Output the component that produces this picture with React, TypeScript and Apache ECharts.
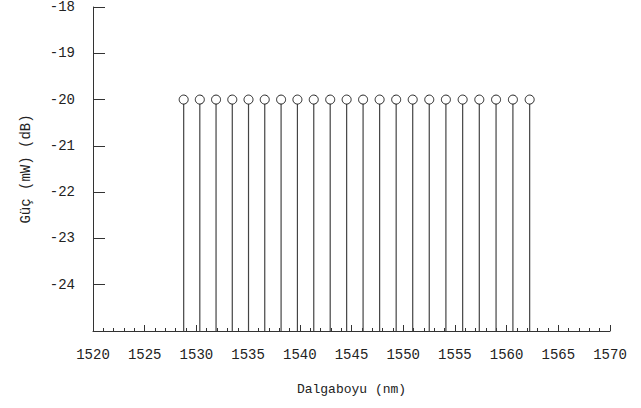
import React, { useEffect, useRef } from "react";
import * as echarts from "echarts";

const wavelengths = [
  1528.77, 1530.33, 1531.9, 1533.47, 1535.04, 1536.61, 1538.19, 1539.77,
  1541.35, 1542.94, 1544.53, 1546.12, 1547.72, 1549.32, 1550.92, 1552.52,
  1554.13, 1555.75, 1557.36, 1558.98, 1560.61, 1562.23,
];
const powers = [
  -20, -20, -20, -20, -20, -20, -20, -20, -20, -20, -20, -20, -20, -20, -20,
  -20, -20, -20, -20, -20, -20, -20,
];
const xMin = 1520;
const xMax = 1570;
const yMin = -25;
const yMax = -18;
const xName = "Dalgaboyu (nm)";
const yName = "Güç (mW) (dB)";

const FONT = "'Liberation Mono', 'DejaVu Sans Mono', monospace";

export default function App() {
  const ref = useRef<HTMLDivElement>(null);
  useEffect(() => {
    document.body.style.margin = "0";
    if (!ref.current) return;
    const chart = echarts.init(ref.current, null, { renderer: "svg" });
    const data = wavelengths.map((w, i) => [w, powers[i]]);
    chart.setOption({
      animation: false,
      backgroundColor: "#ffffff",
      grid: { left: 93, right: 31, top: 6, bottom: 77 },
      xAxis: {
        type: "value",
        min: xMin,
        max: xMax,
        interval: 5,
        name: xName,
        nameLocation: "middle",
        nameGap: 52,
        nameTextStyle: { fontFamily: FONT, fontSize: 13, color: "#222" },
        axisLine: { show: true, lineStyle: { color: "#333", width: 1 } },
        axisTick: { show: true, inside: true, length: 6, lineStyle: { color: "#333" } },
        minorTick: { show: true, splitNumber: 5, length: 3, lineStyle: { color: "#333" } },
        axisLabel: {
          fontFamily: FONT,
          fontSize: 14,
          color: "#222",
          margin: 17,
          formatter: (v: number) => String(v),
        },
        splitLine: { show: false },
      },
      yAxis: {
        type: "value",
        min: yMin,
        max: yMax,
        interval: 1,
        name: yName,
        nameLocation: "middle",
        nameRotate: 90,
        nameGap: 60,
        nameTextStyle: { fontFamily: FONT, fontSize: 14, color: "#222" },
        axisLine: { show: true, lineStyle: { color: "#333", width: 1 } },
        axisTick: { show: true, inside: true, length: 12, lineStyle: { color: "#333" } },
        axisLabel: {
          fontFamily: FONT,
          fontSize: 14,
          color: "#222",
          margin: 18,
          formatter: (v: number) => (v === yMin ? "" : String(v)),
        },
        splitLine: { show: false },
      },
      series: [
        {
          type: "custom",
          data,
          clip: false,
          renderItem: (params: any, api: any) => {
            const x = api.value(0);
            const y = api.value(1);
            const top = api.coord([x, y]);
            const bottom = api.coord([x, yMin]);
            const r = 4.5;
            return {
              type: "group",
              children: [
                {
                  type: "line",
                  shape: { x1: top[0], y1: top[1] + r, x2: bottom[0], y2: bottom[1] },
                  style: { stroke: "#444", lineWidth: 1.2 },
                },
                {
                  type: "circle",
                  shape: { cx: top[0], cy: top[1], r },
                  style: { fill: "#fff", stroke: "#222", lineWidth: 1 },
                },
              ],
            };
          },
        },
      ],
    });
    return () => chart.dispose();
  }, []);
  return <div ref={ref} style={{ width: 641, height: 408 }} />;
}
